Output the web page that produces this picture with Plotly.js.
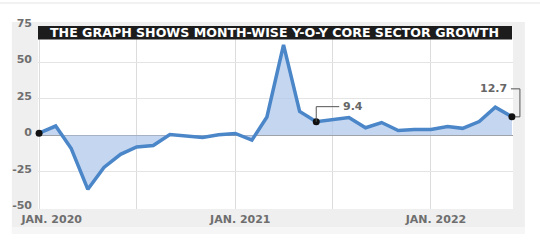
<!DOCTYPE html>
<html><head><meta charset="utf-8">
<script src="https://cdn.plot.ly/plotly-3.0.1.min.js"></script>
<style>html,body{margin:0;padding:0;background:#fff;}#c{width:540px;height:246px;}</style>
</head><body><div id="c"></div>
<script>
const months = ['2020-01-01','2020-02-01','2020-03-01','2020-04-01','2020-05-01','2020-06-01','2020-07-01','2020-08-01','2020-09-01','2020-10-01','2020-11-01','2020-12-01',
 '2021-01-01','2021-02-01','2021-03-01','2021-04-01','2021-05-01','2021-06-01','2021-07-01','2021-08-01','2021-09-01','2021-10-01','2021-11-01','2021-12-01',
 '2022-01-01','2022-02-01','2022-03-01','2022-04-01','2022-05-01','2022-06-01'];
const growth = [1.5, 6.4, -9.0, -37.0, -22.0, -13.0, -8.0, -7.0, 0.6, -0.3, -1.4, 0.4,
 1.3, -3.3, 12.6, 62.0, 16.4, 9.4, 10.5, 12.2, 5.2, 8.8, 3.3, 4.1,
 4.1, 6.0, 4.8, 9.5, 19.3, 12.7];
const dotIdx = [0, 17, 29];
const labelIdx = [17, 29];
const titleText = 'THE GRAPH SHOWS MONTH-WISE Y-O-Y CORE SECTOR GROWTH';
const xTickVals = ['2020-01-01','2020-07-01','2021-01-01','2021-07-01','2022-01-01'];
const xTickText = ['\u00A0\u00A0\u00A0\u00A0JAN. 2020','','JAN. 2021','','JAN. 2022'];
const yTickVals = [-50,-25,0,25,50,75];
const yTickText = ['-50','-25','0','25','50','75'];

const xRange = ['2019-12-30','2022-06-03'];
const yRange = [-50.5, 75];
const font = '"DejaVu Sans", Verdana, sans-serif';

const t0 = Date.parse(xRange[0]), t1 = Date.parse(xRange[1]);
const toPaperX = d => (Date.parse(d) - t0) / (t1 - t0);
const toPaperY = v => (v - yRange[0]) / (yRange[1] - yRange[0]);

const traces = [
 {x: months, y: growth, type:'scatter', mode:'lines', fill:'tozeroy',
  fillcolor:'rgba(172,196,235,0.7)', line:{color:'#4a86c8', width:3.5}, hoverinfo:'skip'},
 {x: dotIdx.map(i=>months[i]), y: dotIdx.map(i=>growth[i]), type:'scatter', mode:'markers',
  marker:{color:'#111', size:7}, cliponaxis:false, hoverinfo:'skip'}
];
const shapes = [
 {type:'line', xref:'paper', yref:'paper', x0:-0.08, x1:1.06, y0:1.126, y1:1.126, line:{color:'#ececec', width:1.5}, layer:'below'},
 {type:'rect', xref:'paper', yref:'paper', x0:-0.055, x1:1.025, y0:-0.137, y1:1.022, fillcolor:'#efefef', line:{width:0}, layer:'below'},
 {type:'rect', xref:'paper', yref:'paper', x0:-0.055, x1:1.025, y0:-0.137, y1:-0.098, fillcolor:'#f6f6f6', line:{width:0}, layer:'below'},
 {type:'rect', xref:'paper', yref:'paper', x0:0, x1:1, y0:0, y1:1, fillcolor:'#ffffff', line:{width:0}, layer:'below'},
 {type:'rect', xref:'paper', yref:'paper', x0:0, x1:0.998, y0:0.926, y1:1.0, fillcolor:'#1c1c1c', line:{width:0}, layer:'above'},
 {type:'path', xref:'x', yref:'y', xsizemode:'pixel', ysizemode:'pixel',
  xanchor: months[labelIdx[0]], yanchor: growth[labelIdx[0]], path:'M0,0 V15 H23', line:{color:'#555', width:1}},
 {type:'path', xref:'paper', yref:'paper', xsizemode:'pixel', ysizemode:'pixel',
  xanchor: toPaperX(months[labelIdx[1]]), yanchor: toPaperY(growth[labelIdx[1]]), path:'M-1,28 H8 V0 H3', line:{color:'#555', width:1}}
];
const annotations = [
 {xref:'paper', yref:'paper', x:0.498, y:0.963, text:'<b>'+titleText+'</b>', showarrow:false,
  font:{family:font, size:12.6, color:'#ffffff'}, xanchor:'center', yanchor:'middle'},
 {x: months[labelIdx[0]], y: growth[labelIdx[0]], text: '<b>'+growth[labelIdx[0]]+'</b>', showarrow:false,
  xanchor:'left', yanchor:'middle', xshift:25, yshift:15, font:{family:font, size:11, color:'#666'}},
 {x: months[labelIdx[1]], y: growth[labelIdx[1]], text: '<b>'+growth[labelIdx[1]]+'</b>', showarrow:false,
  xanchor:'right', yanchor:'middle', xshift:-3, yshift:28, font:{family:font, size:11, color:'#666'}}
];
const layout = {
 width:540, height:246, margin:{l:38, r:27, t:26, b:37},
 paper_bgcolor:'#ffffff', plot_bgcolor:'rgba(0,0,0,0)', showlegend:false,
 xaxis:{type:'date', range:xRange, tickvals:xTickVals, ticktext:xTickText,
  showgrid:true, gridcolor:'#dcdcdc', gridwidth:1, zeroline:false, showline:false, ticks:'',
  ticklabelshift:5, ticklabelstandoff:2, tickfont:{family:font, size:11, color:'#6e6e6e', weight:'bold'}},
 yaxis:{range:yRange, tickvals:yTickVals, ticktext:yTickText, showgrid:true, gridcolor:'#e4e4e4', gridwidth:1,
  zeroline:true, zerolinecolor:'#9c9c9c', zerolinewidth:1.5, showline:false, ticks:'',
  ticklabelshift:-3, ticklabelstandoff:5, tickfont:{family:font, size:11, color:'#6e6e6e', weight:'bold'}},
 shapes: shapes, annotations: annotations
};
Plotly.newPlot('c', traces, layout, {staticPlot:true, displayModeBar:false});
</script></body></html>
